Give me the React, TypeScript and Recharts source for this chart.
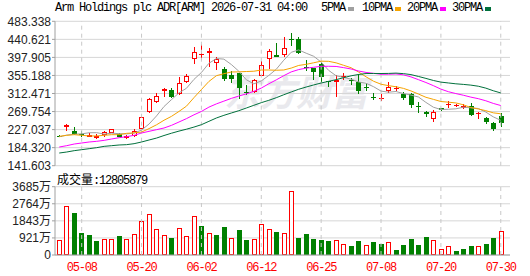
import React from 'react';
import { ComposedChart, Bar, Line, XAxis, YAxis, CartesianGrid, ReferenceLine } from 'recharts';

const title = 'Arm Holdings plc ADR[ARM] 2026-07-31 04:00';
const maNames = ['5PMA', '10PMA', '20PMA', '30PMA'];

const dates = [
  '05-05', '05-06', '05-07', '05-08', '05-11', '05-12', '05-13', '05-14', '05-15', '05-18',
  '05-19', '05-20', '05-21', '05-22', '05-26', '05-27', '05-28', '05-29', '06-01', '06-02',
  '06-03', '06-04', '06-05', '06-08', '06-09', '06-10', '06-11', '06-12', '06-15', '06-16',
  '06-17', '06-18', '06-22', '06-23', '06-24', '06-25', '06-26', '06-29', '06-30', '07-01',
  '07-02', '07-06', '07-07', '07-08', '07-09', '07-10', '07-13', '07-14', '07-15', '07-16',
  '07-17', '07-20', '07-21', '07-22', '07-23', '07-24', '07-27', '07-28', '07-29', '07-30',
];
const tickDates = ['05-08', '05-20', '06-02', '06-12', '06-25', '07-08', '07-20', '07-30'];

const opens = [
  213, 234, 224, 217, 210, 207, 214, 220, 217, 208,
  212, 229, 269, 292, 318, 321, 312, 340, 393, 403,
  409, 385, 370, 356, 361, 317, 316, 355, 394, 404,
  403, 441, 441, 375, 373, 382, 341, 339, 351, 344,
  339, 327, 305, 300, 319, 324, 311, 311, 283, 269,
  251, 277, 285, 282, 277, 282, 264, 255, 243, 259,
];
const highs = [
  215, 240, 233, 224, 219, 217, 224, 229, 218, 214,
  228, 260, 302, 314, 326, 325, 351, 359, 423, 430,
  420, 398, 376, 365, 362, 333, 347, 389, 417, 432,
  446, 456, 446, 391, 374, 385, 343, 357, 361, 349,
  359, 337, 314, 311, 339, 331, 316, 313, 292, 270,
  273, 279, 295, 287, 288, 289, 269, 256, 245, 267,
];
const lows = [
  209, 223, 215, 209, 209, 204, 210, 218, 209, 205,
  209, 228, 266, 291, 304, 302, 310, 338, 382, 391,
  376, 369, 341, 338, 300, 308, 313, 353, 371, 398,
  400, 426, 406, 365, 344, 340, 329, 305, 345, 333,
  311, 318, 296, 294, 314, 319, 297, 279, 267, 256,
  246, 272, 277, 281, 276, 259, 253, 240, 224, 233,
];
const closes = [
  212, 238, 217, 216, 215, 213, 221, 228, 210, 212,
  223, 257, 299, 306, 323, 305, 337, 353, 411, 405,
  414, 393, 346, 347, 326, 313, 344, 381, 412, 399,
  420, 438, 409, 373, 363, 351, 340, 345, 354, 342,
  318, 325, 304, 302, 329, 326, 301, 285, 280, 265,
  269, 274, 288, 285, 284, 262, 266, 246, 228, 243,
];
const prevClose = 208;

const ma5 = [
  210, 214, 216, 217, 219.6, 219.8, 216.4, 218.6, 217.4, 216.8,
  218.8, 226, 240.2, 259.4, 281.6, 298, 314, 324.8, 345.8, 362.2,
  384, 395.2, 393.8, 381, 365.2, 345, 335.2, 342.2, 355.2, 369.8,
  391.2, 410, 415.6, 407.8, 400.6, 386.8, 367.2, 354.4, 350.6, 346.4,
  339.8, 336.8, 328.6, 318.2, 315.6, 317.2, 312.4, 308.6, 304.2, 291.4,
  280, 274.6, 275.2, 276.2, 280, 278.6, 277, 268.6, 257.2, 249,
];
const ma10 = [
  211, 213.5, 215, 213.5, 212, 212, 213.5, 215, 215, 218.2,
  219.3, 221.2, 229.4, 238.4, 249.2, 258.4, 270, 282.5, 302.6, 321.9,
  341, 354.6, 359.3, 363.4, 363.7, 364.5, 365.2, 368, 368.1, 367.5,
  368.1, 372.6, 378.9, 381.5, 385.2, 389, 388.6, 385, 379.2, 373.5,
  363.3, 352, 341.5, 334.4, 331, 328.5, 324.6, 318.6, 311.2, 303.5,
  298.6, 293.5, 291.9, 290.2, 285.7, 279.3, 275.8, 271.9, 266.7, 264.5,
];
const ma20 = [
  185.8, 189, 192.9, 195.3, 197.7, 199.3, 201.6, 204.8, 207.9, 210.3,
  213.5, 219, 222.9, 226.9, 230.8, 237.1, 245, 253, 262, 270,
  280.2, 287.9, 294.4, 300.9, 306.5, 311.5, 317.6, 325.3, 335.4, 344.7,
  354.6, 363.6, 369.1, 372.5, 374.5, 376.8, 376.9, 376.5, 373.7, 370.5,
  365.7, 362.3, 360.2, 358, 358.1, 358.8, 356.6, 351.8, 345.2, 338.5,
  331, 322.8, 316.7, 312.3, 308.4, 303.9, 300.2, 295.3, 289, 284,
];
const ma30 = [
  171.6, 174, 177.2, 179.5, 181.9, 184.3, 187.4, 189, 190.6, 191.4,
  193.7, 197.7, 202.4, 207, 213, 218.5, 223.5, 228, 233, 238.7,
  246.6, 254.5, 260.8, 266.3, 271.8, 278.1, 284.5, 290.8, 296.3, 302.5,
  309.5, 316.1, 322.5, 327.8, 332.7, 337.3, 341.3, 345.2, 350, 354.3,
  357.5, 359.7, 359.9, 359.8, 360, 360.7, 359.5, 357.2, 352.8, 348.2,
  343.3, 339.4, 337.4, 335.4, 334, 332.3, 329.7, 325.2, 319, 313.8,
];

// volume in 万 (10k shares)
const volumes = [
  809, 2644, 2266, 1187, 1079, 755, 847, 847, 1025, 847,
  1115, 1834, 2212, 1385, 1079, 917, 1439, 1007, 2104, 1565,
  1187, 1079, 1511, 899, 1349, 809, 847, 1673, 1385, 1241,
  1187, 3436, 917, 1133, 863, 809, 755, 791, 593, 486,
  755, 521, 701, 593, 701, 270, 540, 863, 540, 971,
  791, 305, 467, 216, 324, 486, 467, 611, 917, 1280.5879,
];

const priceTicks = [141.603, 184.32, 227.037, 269.754, 312.471, 355.188, 397.905, 440.621, 483.338];
const volTicks = [0, 921.25, 1842.5, 2763.75, 3685];

const RED = '#ff0000';
const GREEN = '#008000';
const FRAME = '#a0a0a0';
const GRID = '#d6d6d6';
const MA_COLORS = ['#a0a0a0', '#f5a300', '#ff00ff', '#00703c'];
const MONO = "'Liberation Mono', 'DejaVu Sans Mono', monospace";

const rows = dates.map((d, i) => ({
  date: d,
  open: opens[i],
  high: highs[i],
  low: lows[i],
  close: closes[i],
  ma5: ma5[i],
  ma10: ma10[i],
  ma20: ma20[i],
  ma30: ma30[i],
  vol: volumes[i],
  volUp: closes[i] >= (i === 0 ? prevClose : closes[i - 1]),
}));

const Candle = (props: any) => {
  const { x, y, width, height, payload } = props;
  if (x == null || y == null || !payload) return null;
  const top = Math.min(y, y + height);
  const bot = Math.max(y, y + height);
  const { open, high, low, close } = payload;
  const span = high - low || 1;
  const py = (v: number) => bot - ((v - low) / span) * (bot - top);
  const cxi = Math.round(x + width / 2);
  const wx = cxi + 0.5;
  const up = close >= open;
  const color = up ? RED : GREEN;
  const bTop = Math.round(py(Math.max(open, close)));
  const bBot = Math.round(py(Math.min(open, close)));
  const hy = Math.round(py(high));
  const ly = Math.round(py(low));
  if (up) {
    const h = Math.max(bBot - bTop, 1);
    return (
      <g>
        <line x1={wx} x2={wx} y1={hy} y2={bTop} stroke={color} strokeWidth={1} />
        <line x1={wx} x2={wx} y1={bTop + h} y2={ly} stroke={color} strokeWidth={1} />
        {bBot - bTop <= 1 ? (
          <rect x={cxi - 2} y={bTop} width={5} height={Math.max(bBot - bTop, 1)} fill={color} />
        ) : (
          <rect x={cxi - 1.5} y={bTop + 0.5} width={4} height={h - 1} fill="#fff" stroke={color} strokeWidth={1} />
        )}
      </g>
    );
  }
  return (
    <g>
      <line x1={wx} x2={wx} y1={hy} y2={ly} stroke={color} strokeWidth={1} />
      <rect x={cxi - 2} y={bTop} width={5} height={Math.max(bBot - bTop, 1)} fill={color} />
    </g>
  );
};

const VolBar = (props: any) => {
  const { x, y, width, height, payload } = props;
  if (x == null || y == null || !payload) return null;
  const cxi = Math.round(x + width / 2);
  const top = Math.round(Math.min(y, y + height));
  const bot = Math.round(Math.max(y, y + height));
  if (payload.volUp) {
    return <rect x={cxi - 1.5} y={top + 0.5} width={4} height={Math.max(bot - top - 1, 1)} fill="#fff" stroke={RED} strokeWidth={1} />;
  }
  return <rect x={cxi - 2} y={top} width={5} height={Math.max(bot - top, 1)} fill={GREEN} />;
};

const xPad = { left: 0.5, right: 5.5 };
const legendLeft = [321, 362, 407, 452];

export default function App() {
  const lastVol = Math.round(volumes[volumes.length - 1] * 10000);
  return (
    <div style={{ position: 'fixed', left: 0, top: 0, width: 530, height: 276, background: '#fff', overflow: 'hidden' }}>
      <div
        style={{
          position: 'absolute', left: 224, top: 72, fontSize: 36, lineHeight: '36px', fontWeight: 700,
          fontStyle: 'italic', color: '#e9e9ed', fontFamily: "'Noto Sans CJK SC', sans-serif", whiteSpace: 'pre',
        }}
      >
        东方财富
      </div>
      <div
        style={{
          position: 'absolute', left: 55, top: 1, fontFamily: MONO, fontSize: 12, lineHeight: '14px',
          letterSpacing: '-1.2px', whiteSpace: 'pre', color: '#000',
        }}
      >
        {title}
      </div>
      {maNames.map((n, i) => (
        <div
          key={n}
          style={{
            position: 'absolute', left: legendLeft[i], top: 1, fontFamily: MONO, fontSize: 12, lineHeight: '14px',
            letterSpacing: '-1.2px', whiteSpace: 'pre', color: '#000', display: 'flex', alignItems: 'center',
          }}
        >
          <span>{n}</span>
          <span style={{ display: 'inline-block', width: 6, height: 4, background: MA_COLORS[i], marginLeft: 3, marginTop: 1 }} />
        </div>
      ))}
      <div style={{ position: 'absolute', left: 0, top: 0 }}>
        <ComposedChart width={530} height={180} data={rows} margin={{ top: 21.3, right: 20, bottom: 14.3, left: 0 }}>
          <CartesianGrid vertical={false} stroke={GRID} />
          {tickDates.map((d) => (
            <ReferenceLine key={d} x={d} stroke="#c8c8c8" strokeDasharray="4 4" />
          ))}
          <XAxis dataKey="date" type="category" height={0} tick={false} tickLine={false} stroke={FRAME} padding={xPad} />
          <XAxis xAxisId="top" orientation="top" dataKey="date" type="category" height={0} tick={false} tickLine={false} stroke={FRAME} />
          <YAxis
            type="number"
            domain={[priceTicks[0], priceTicks[priceTicks.length - 1]]}
            ticks={priceTicks}
            allowDataOverflow
            interval={0}
            width={55}
            tickSize={3}
            tickMargin={1}
            stroke={FRAME}
            tick={{ fontSize: 12, fill: '#222', fontFamily: "'Liberation Sans', Arial, sans-serif" }}
            tickFormatter={(v: number) => v.toFixed(3)}
          />
          <YAxis yAxisId="r" orientation="right" type="number" domain={[0, 1]} width={0} tick={false} tickLine={false} stroke={FRAME} />
          <Bar dataKey={(r: any) => [r.low, r.high]} barSize={5} shape={Candle} isAnimationActive={false} />
          <Line dataKey="ma5" stroke={MA_COLORS[0]} strokeWidth={1} dot={false} isAnimationActive={false} />
          <Line dataKey="ma10" stroke={MA_COLORS[1]} strokeWidth={1} dot={false} isAnimationActive={false} />
          <Line dataKey="ma20" stroke={MA_COLORS[2]} strokeWidth={1} dot={false} isAnimationActive={false} />
          <Line dataKey="ma30" stroke={MA_COLORS[3]} strokeWidth={1} dot={false} isAnimationActive={false} />
        </ComposedChart>
      </div>
      <div style={{ position: 'absolute', left: 0, top: 170 }}>
        <ComposedChart width={530} height={106} data={rows} margin={{ top: 16.7, right: 20, bottom: 0, left: 0 }}>
          <CartesianGrid vertical={false} stroke={GRID} />
          {tickDates.map((d) => (
            <ReferenceLine key={d} x={d} stroke="#c8c8c8" strokeDasharray="4 4" />
          ))}
          <XAxis
            dataKey="date"
            type="category"
            ticks={tickDates}
            interval={0}
            height={21}
            tickLine={false}
            tickSize={4}
            tickMargin={3}
            stroke={FRAME}
            padding={xPad}
            tick={{ fill: RED, fontSize: 12, fontFamily: MONO, letterSpacing: '-1.2px' }}
          />
          <XAxis xAxisId="top" orientation="top" dataKey="date" type="category" height={0} tick={false} tickLine={false} stroke={FRAME} />
          <YAxis
            type="number"
            domain={[volTicks[0], volTicks[volTicks.length - 1]]}
            ticks={volTicks}
            allowDataOverflow
            interval={0}
            width={55}
            tickSize={3}
            tickMargin={1}
            stroke={FRAME}
            tick={{ fontSize: 12, fill: '#222', fontFamily: "'Liberation Sans', Arial, 'Noto Sans CJK SC', sans-serif" }}
            tickFormatter={(v: number) => (v === 0 ? '0' : `${Math.round(v)}万`)}
          />
          <YAxis yAxisId="r" orientation="right" type="number" domain={[0, 1]} width={0} tick={false} tickLine={false} stroke={FRAME} />
          <Bar dataKey="vol" barSize={5} shape={VolBar} isAnimationActive={false} />
        </ComposedChart>
      </div>
      <div
        style={{
          position: 'absolute', left: 57, top: 172, fontSize: 12, lineHeight: '14px', color: '#000', whiteSpace: 'pre',
        }}
      >
        <span style={{ fontFamily: "'Noto Sans CJK SC', sans-serif" }}>成交量</span>
        <span style={{ fontFamily: MONO, letterSpacing: '-1.2px' }}>:{lastVol}</span>
      </div>
    </div>
  );
}
